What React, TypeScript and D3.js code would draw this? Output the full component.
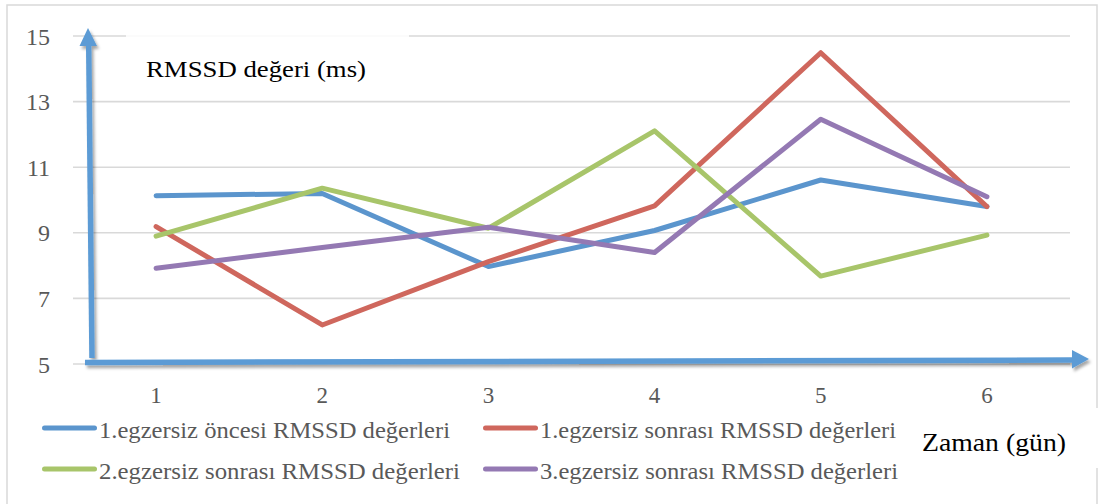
import React, { useEffect } from "react";
import * as d3 from "d3";

const days = [1, 2, 3, 4, 5, 6];
const yTicks = [5, 7, 9, 11, 13, 15];
const seriesNames = [
  "1.egzersiz öncesi RMSSD değerleri",
  "1.egzersiz sonrası RMSSD değerleri",
  "2.egzersiz sonrası RMSSD değerleri",
  "3.egzersiz sonrası RMSSD değerleri",
];
const pre1 = [10.13, 10.2, 7.97, 9.07, 10.61, 9.8];
const post1 = [9.19, 6.19, 8.12, 9.82, 14.49, 9.8];
const post2 = [8.9, 10.36, 9.14, 12.11, 7.68, 8.93];
const post3 = [7.92, 8.55, 9.17, 8.4, 12.46, 10.1];
const seriesValues = [pre1, post1, post2, post3];
const colors = ["#5B95CD", "#CF675D", "#A8C56A", "#9479B3"];
const yTitle = "RMSSD değeri (ms)";
const xTitle = "Zaman (gün)";

const W = 1099;
const H = 504;
const FONT = "'Liberation Serif', 'Times New Roman', serif";

export default function App() {
  useEffect(() => {
    document.body.style.margin = "0";
  }, []);

  const x = d3.scaleBand<number>().domain(days).range([73, 1070]).padding(0);
  const xc = (d: number) => (x(d) as number) + x.bandwidth() / 2;
  const y = d3.scaleLinear().domain([5, 15]).range([364, 36]);
  const line = d3
    .line<number>()
    .x((_, i) => xc(days[i]))
    .y((v) => y(v));

  // legend layout: 2 columns x 2 rows, order as in the picture
  const legendPos = [
    { lx: 42, ly: 428, tw: 351 },
    { lx: 483, ly: 428, tw: 356 },
    { lx: 42, ly: 469, tw: 361 },
    { lx: 483, ly: 469, tw: 358 },
  ];

  return (
    <svg width={W} height={H} style={{ display: "block", background: "#fff" }}>
      <defs>
        <filter id="shadow" x="-5%" y="-5%" width="110%" height="120%">
          <feDropShadow dx="2" dy="3" stdDeviation="1.8" floodColor="#000" floodOpacity="0.35" />
        </filter>
      </defs>
      <rect x={0} y={0} width={W} height={H} fill="#fff" />
      {/* chart border */}
      <rect x={7} y={5} width={1090} height={560} fill="none" stroke="#d9d9d9" strokeWidth={1.5} />

      {/* gridlines */}
      {yTicks.map((t) => (
        <line key={t} x1={73} x2={1070} y1={y(t)} y2={y(t)} stroke="#d9d9d9" strokeWidth={1.6} />
      ))}
      {/* y tick labels */}
      {yTicks.map((t) => (
        <text
          key={"yl" + t}
          x={50}
          y={y(t) + 8.5}
          textAnchor="end"
          fontFamily={FONT}
          fontSize={24}
          fill="#595959"
        >
          {t}
        </text>
      ))}
      {/* x tick labels */}
      {days.map((d) => (
        <text
          key={"xl" + d}
          x={xc(d)}
          y={403}
          textAnchor="middle"
          fontFamily={FONT}
          fontSize={23}
          fill="#595959"
        >
          {d}
        </text>
      ))}

      {/* title box over the top gridline */}
      <rect x={126} y={33} width={283} height={58} fill="#fff" opacity={0.85} />
      <text x={146} y={77} fontFamily={FONT} fontSize={23} fill="#000" textLength={220} lengthAdjust="spacingAndGlyphs">
        {yTitle}
      </text>

      {/* series lines */}
      {seriesValues.map((vals, i) => (
        <path
          key={"s" + i}
          d={line(vals) as string}
          fill="none"
          stroke={colors[i]}
          strokeWidth={5}
          strokeLinejoin="round"
          strokeLinecap="round"
        />
      ))}

      {/* axis arrows */}
      <g filter="url(#shadow)" fill="#5B9BD5" stroke="none">
        <line x1={92} y1={358} x2={88.7} y2={44} stroke="#5B9BD5" strokeWidth={5.5} />
        <polygon points="79.5,46 88,28 97,46" />
        <line x1={85} y1={362.5} x2={1073} y2={360} stroke="#5B9BD5" strokeWidth={5.5} />
        <polygon points="1072,350 1089,359 1072,368.5" />
      </g>

      {/* x title box */}
      <rect x={912} y={408} width={190} height={60} fill="#fff" />
      <text x={922} y={451} fontFamily={FONT} fontSize={26} fill="#000" textLength={144} lengthAdjust="spacingAndGlyphs">
        {xTitle}
      </text>

      {/* legend */}
      {seriesNames.map((name, i) => {
        const p = legendPos[i];
        return (
          <g key={"lg" + i}>
            <line
              x1={p.lx + 2.5}
              x2={p.lx + 52.5}
              y1={p.ly}
              y2={p.ly}
              stroke={colors[i]}
              strokeWidth={5}
              strokeLinecap="round"
            />
            <text
              x={p.lx + 57}
              y={p.ly + 9.5}
              fontFamily={FONT}
              fontSize={22.5}
              fill="#595959"
              textLength={p.tw}
              lengthAdjust="spacingAndGlyphs"
            >
              {name}
            </text>
          </g>
        );
      })}
    </svg>
  );
}
